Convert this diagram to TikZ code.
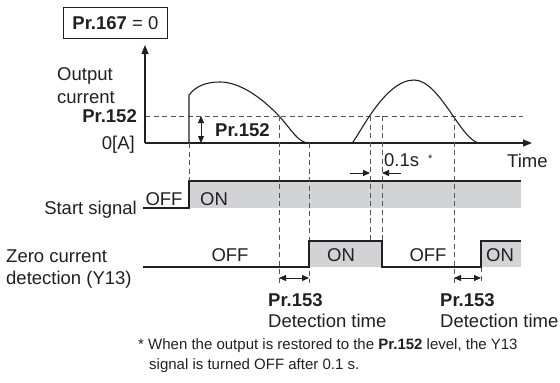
\documentclass[tikz,border=0pt]{standalone}
\usepackage{fontspec}
\setmainfont{Liberation Sans}
\usetikzlibrary{arrows.meta}
\definecolor{fillgray}{HTML}{D1D3D4}
\definecolor{dashgray}{HTML}{555555}
\definecolor{ink}{HTML}{231F20}
\begin{document}
\begin{tikzpicture}[x=1pt,y=-1pt,
  txt/.style={font=\fontsize{18.5}{22}\selectfont, inner sep=0pt, text=ink},
  note/.style={font=\fontsize{15}{18}\selectfont, inner sep=0pt, text=ink},
  sig/.style={line width=1.1pt, draw=ink},
  guide/.style={draw=dashgray, line width=0.9pt, dash pattern=on 5pt off 3.5pt},
  dimarrow/.style={{Triangle[length=7pt,width=6pt]}-{Triangle[length=7pt,width=6pt]}, line width=0.9pt, draw=ink, fill=ink},
  onearrow/.style={-{Triangle[length=7pt,width=6pt]}, line width=0.9pt, draw=ink, fill=ink},
  axisarrow/.style={-{Triangle[length=9pt,width=7pt]}, line width=1.1pt, draw=ink, fill=ink},
]
\path[use as bounding box] (0,0) rectangle (560,383);

% header box
\node[txt, draw=ink, line width=0.8pt, minimum width=104pt, minimum height=31pt, anchor=north west] (pr167) at (63,7) {\textbf{Pr.167} = 0};

% axes
\coordinate (o) at (145,143);
\coordinate (ytop) at (145,45);
\coordinate (xend) at (532,143);
\draw[guide] (145,116) -- (523,116);
\draw[axisarrow] (o) -- (ytop);
\draw[axisarrow] (o) -- (xend);

% output current waveform
\draw[sig] (189,143) -- (189,95) .. controls (196,86) and (206,82) .. (220,82)
  .. controls (240,82) and (262,98) .. (279,116)
  .. controls (292,130) and (298,143) .. (309,143);
\draw[sig] (352,143) .. controls (358,138) and (384,80) .. (414,80)
  .. controls (440,80) and (462,143) .. (480,143);

% start signal
\fill[fillgray] (189,181) rectangle (521,208);
\draw[sig] (143,208) -- (189,208) -- (189,181) -- (521,181);

% Y13 signal
\fill[fillgray] (309,241) rectangle (382,267);
\fill[fillgray] (481,241) rectangle (521,267);

% dashed guides
\draw[guide] (189,143) -- (189,181);
\draw[guide] (279,116) -- (279,283);
\draw[guide] (309,143) -- (309,283);
\draw[guide] (370,116) -- (370,241);
\draw[guide] (382,116) -- (382,241);
\draw[guide] (454,116) -- (454,283);
\draw[guide] (481,267) -- (481,283);

\draw[sig] (143,267) -- (309,267) -- (309,241) -- (382,241) -- (382,267) -- (481,267) -- (481,241) -- (521,241);

% dimension arrows
\coordinate (pa) at (201,116); \coordinate (pb) at (201,143);
\draw[dimarrow] (pa) -- (pb);
\coordinate (d1a) at (279,278); \coordinate (d1b) at (309,278);
\draw[dimarrow] (d1a) -- (d1b);
\coordinate (d2a) at (454,278); \coordinate (d2b) at (481,278);
\draw[dimarrow] (d2a) -- (d2b);
\coordinate (t1s) at (350,173); \coordinate (t1e) at (370,173);
\coordinate (t2s) at (401,173); \coordinate (t2e) at (382,173);
\draw[onearrow] (t1s) -- (t1e);
\draw[onearrow] (t2s) -- (t2e);

% labels
\node[txt, anchor=base west] (out1) at (57,80) {Output};
\node[txt, anchor=base west] (out2) at (57,103) {current};
\node[txt, anchor=base east] (lvl) at (137,122) {\textbf{Pr.152}};
\node[txt, anchor=base east] (zero) at (135,149) {0[A]};
\node[txt, anchor=base west] (lvl2) at (215,136) {\textbf{Pr.152}};
\node[txt, anchor=base west] (tenth) at (384,166) {0.1s};
\node[txt, anchor=base west, font=\fontsize{11}{12}\selectfont] (star) at (428,162) {*};
\node[txt, anchor=base west] (time) at (507,167) {Time};

\node[txt, anchor=base] (soff) at (164,205) {OFF};
\node[txt, anchor=base west] (son) at (200,205) {ON};
\node[txt, anchor=base east] (start) at (137,214) {Start signal};

\node[txt, anchor=base west] (z1) at (6,262) {Zero current};
\node[txt, anchor=base west] (z2) at (6,284) {detection (Y13)};
\node[txt, anchor=base] (yoff1) at (230,261) {OFF};
\node[txt, anchor=base] (yon1) at (341,261) {ON};
\node[txt, anchor=base] (yoff2) at (428,261) {OFF};
\node[txt, anchor=base] (yon2) at (500,261) {ON};

\node[txt, anchor=base west] (p153a) at (268,306) {\textbf{Pr.153}};
\node[txt, anchor=base west] (dta) at (268,327) {Detection time};
\node[txt, anchor=base west] (p153b) at (440,306) {\textbf{Pr.153}};
\node[txt, anchor=base west] (dtb) at (440,327) {Detection time};

\node[note, anchor=base west] (fn1) at (138,349) {* When the output is restored to the \textbf{Pr.152} level, the Y13};
\node[note, anchor=base west] (fn2) at (149,369) {signal is turned OFF after 0.1 s.};
\end{tikzpicture}
\end{document}
